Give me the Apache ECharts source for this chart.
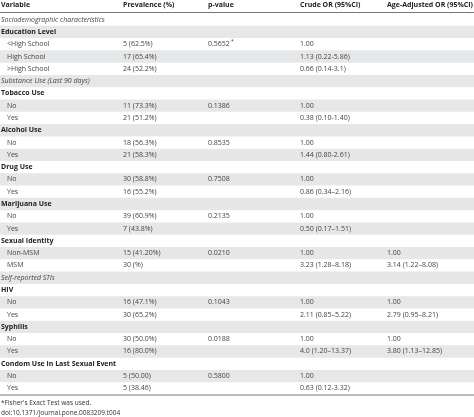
<!DOCTYPE html>
<html><head><meta charset="utf-8">
<script src="https://cdn.jsdelivr.net/npm/echarts@6/dist/echarts.min.js"></script>
<style>html,body{margin:0;padding:0;background:#fff}#c{width:474px;height:417px}</style>
</head><body><div id="c"></div>
<script>
const headers = ['Variable','Prevalence (%)','p-value','Crude OR (95%CI)','Age-Adjusted OR (95%CI)'];
const variables = ['Sociodemographic characteristics','Education Level','<High School','High School','>High School',
'Substance Use (Last 90 days)','Tobacco Use','No','Yes','Alcohol Use','No','Yes','Drug Use','No','Yes',
'Marijuana Use','No','Yes','Sexual Identity','Non-MSM','MSM','Self-reported STIs','HIV','No','Yes',
'Syphilis','No','Yes','Condom Use in Last Sexual Event','No','Yes'];
const rowKinds = ['s','g','i','i','i','s','g','i','i','g','i','i','g','i','i','g','i','i','g','i','i','s','g','i','i','g','i','i','g','i','i'];
const prevalence = ['','','5 (62.5%)','17 (65.4%)','24 (52.2%)','','','11 (73.3%)','21 (51.2%)','','18 (56.3%)','21 (58.3%)','','30 (58.8%)','16 (55.2%)','','39 (60.9%)','7 (43.8%)','','15 (41.20%)','30 (%)','','','16 (47.1%)','30 (65.2%)','','30 (50.0%)','16 (80.0%)','','5 (50.00)','5 (38.46)'];
const pValues = ['','','0.5652*','','','','','0.1386','','','0.8535','','','0.7508','','','0.2135','','','0.0210','','','','0.1043','','','0.0188','','','0.5800',''];
const crudeOR = ['','','1.00','1.13 (0.22-5.86)','0.66 (0.14-3.1)','','','1.00','0.38 (0.10-1.40)','','1.00','1.44 (0.80-2.61)','','1.00','0.86 (0.34\u20132.16)','','1.00','0.50 (0.17\u20131.51)','','1.00','3.23 (1.28\u20138.18)','','','1.00','2.11 (0.85\u20135.22)','','1.00','4.0 (1.20\u201313.37)','','1.00','0.63 (0.12-3.32)'];
const adjOR = ['','','','','','','','','','','','','','','','','','','','1.00','3.14 (1.22\u20138.08)','','','1.00','2.79 (0.95\u20138.21)','','1.00','3.80 (1.13\u201312.85)','','',''];
const footnotes = ["*Fisher's Exact Test was used.","doi:10.1371/journal.pone.0083209.t004"];

const colX = [1,123,208,300,387];
const F = '"Open Sans", sans-serif';
const chart = echarts.init(document.getElementById('c'));
const data = variables.map((v,i)=>[i]);
chart.setOption({
  animation:false,
  grid:{left:0,right:0,top:13.5,bottom:22.5},
  xAxis:{type:'value',min:0,max:474,show:false},
  yAxis:{type:'category',data:variables.map((v,i)=>i),inverse:true,show:false},
  series:[{
    type:'custom',
    data:data,
    renderItem:function(params,api){
      const i=api.value(0);
      const c=api.coord([0,i]);
      const h=api.size([0,1])[1];
      const kind=rowKinds[i];
      const children=[];
      if(i%2===1) children.push({type:'rect',shape:{x:0,y:c[1]-h/2,width:474,height:h},style:{fill:'#e6e7e8'}});
      const base={fontFamily:F,fontSize:7,fill:'#333',verticalAlign:'middle'};
      const lx = kind==='i'?7:colX[0];
      children.push({type:'text',x:lx,y:c[1],style:Object.assign({},base,{text:variables[i],
        fontWeight:kind==='g'?'bold':'normal',fontStyle:kind==='s'?'italic':'normal',fill:kind==='g'?'#222':'#444'})});
      const cols=[prevalence,pValues,crudeOR,adjOR];
      cols.forEach((arr,k)=>{ if(arr[i]) children.push({type:'text',x:colX[k+1],y:c[1],style:Object.assign({},base,{text:arr[i].replace('*',''),fill:'#444'})});
        if(arr[i].indexOf('*')>=0) children.push({type:'text',x:colX[k+1]+23,y:c[1]-3,style:Object.assign({},base,{text:'*',fontSize:5})}); });
      return {type:'group',children:children};
    }
  }],
  graphic:[
    {type:'line',shape:{x1:0,y1:12.5,x2:474,y2:12.5},style:{stroke:'#777',lineWidth:1}},
    {type:'line',shape:{x1:0,y1:395,x2:474,y2:395},style:{stroke:'#777',lineWidth:1}},
    ...headers.map((t,k)=>({type:'text',x:colX[k],y:5,style:{text:t,fontFamily:F,fontSize:7,fontWeight:'bold',fill:'#222',verticalAlign:'middle'}})),
    ...footnotes.map((t,k)=>({type:'text',x:1,y:403+k*10,style:{text:t,fontFamily:F,fontSize:6.5,fill:'#333',verticalAlign:'middle'}}))
  ]
});
</script></body></html>
